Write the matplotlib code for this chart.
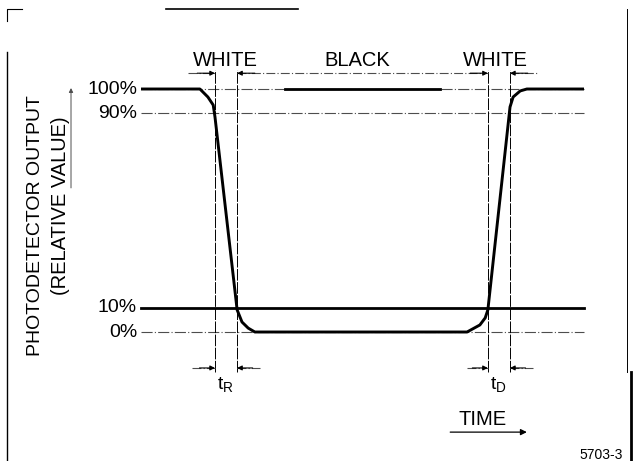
import matplotlib
matplotlib.use("Agg")
import matplotlib.pyplot as plt
from matplotlib.lines import Line2D

# ---- data (time in arbitrary units, output in % of full scale) ----
levels = [100, 90, 10, 0]
level_labels = ["100%", "90%", "10%", "0%"]

wave_t = [0, 13.3, 15.1, 16.3, 16.7, 21.7, 22.8, 24.2, 25.7,
          73.6, 76.5, 77.7, 78.3, 83.3, 84.0, 85.6, 87.1, 100]
wave_v = [100, 100, 96.7, 93.4, 88.5, 9.1, 4.1, 1.6, 0,
          0, 2.9, 5.8, 9.1, 92.6, 96.7, 99.2, 100, 100]

fall_edge = [16.7, 21.7]    # 90% -> 10%  (tR)
rise_edge = [78.3, 83.3]    # 10% -> 90%  (tD)
zones = ["WHITE", "BLACK", "WHITE"]
bold_top_span = [32.5, 67.5]

W, H = 633, 461
FONT = "Liberation Sans"

fig = plt.figure(figsize=(W / 100, H / 100), dpi=100)
ax = fig.add_axes([0, 0, 1, 1])
# px -> data: x = (px-141)/4.43 ; y = (332-py)/2.43
ax.set_xlim(-141 / 4.43, (W - 141) / 4.43)
ax.set_ylim((332 - H) / 2.43, 332 / 2.43)
ax.axis("off")

t0, t1 = 0, 100
thin = dict(color="0.3", lw=0.8)
dashdot = (0, (10, 2, 1, 2))

# reference levels
ax.plot([t0, t1], [100, 100], linestyle=dashdot, **thin)
ax.plot([t0, t1], [90, 90], linestyle=dashdot, **thin)
ax.plot([t0, t1], [0, 0], linestyle=dashdot, **thin)
ax.plot([t0, t1], [10, 10], color="k", lw=2.0)
ax.plot(bold_top_span, [100, 100], color="k", lw=2.0)

# waveform
ax.plot(wave_t, wave_v, color="k", lw=2.1, solid_capstyle="butt",
        solid_joinstyle="round")

# percent labels
for v, lab in zip(levels, level_labels):
    ax.text(-0.9, v, lab, ha="right", va="center", fontsize=14, family=FONT)

# vertical marker lines
dim_top, dim_bot = 106.5, -14.8
for x in fall_edge + rise_edge:
    ax.plot([x, x], [dim_bot - 1.5, dim_top + 1.5], color="k", lw=0.7,
            linestyle=(0, (12, 1.5)))

arrow = dict(arrowstyle="-|>", color="k", lw=0.8, mutation_scale=7,
             shrinkA=0, shrinkB=0)


def dim_arrow(x_from, x_to, y):
    ax.annotate("", xy=(x_to, y), xytext=(x_from, y), arrowprops=arrow)


# WHITE / BLACK / WHITE dimension line
ax.plot([10.6, fall_edge[0]], [dim_top] * 2, linestyle=(0, (8, 2, 1, 2)), **thin)
ax.plot([fall_edge[1], rise_edge[0]], [dim_top] * 2, linestyle=(0, (8, 2, 1, 2)), **thin)
ax.plot([rise_edge[1], 89.4], [dim_top] * 2, linestyle=(0, (8, 2, 1, 2)), **thin)
dim_arrow(fall_edge[0] - 4, fall_edge[0], dim_top)
dim_arrow(fall_edge[1] + 4, fall_edge[1], dim_top)
dim_arrow(rise_edge[0] - 4, rise_edge[0], dim_top)
dim_arrow(rise_edge[1] + 4, rise_edge[1], dim_top)

zone_x = [19.0, 48.9, 80.1]
for x, lab in zip(zone_x, zones):
    ax.text(x, 111.9, lab, ha="center", va="center", fontsize=14.5, family=FONT)

# tR / tD arrows
ax.plot([11.5, fall_edge[0]], [dim_bot] * 2, linestyle=(0, (8, 2, 1, 2)), **thin)
ax.plot([fall_edge[1], 26.9], [dim_bot] * 2, linestyle=(0, (8, 2, 1, 2)), **thin)
ax.plot([73.6, rise_edge[0]], [dim_bot] * 2, linestyle=(0, (8, 2, 1, 2)), **thin)
ax.plot([rise_edge[1], 88.5], [dim_bot] * 2, linestyle=(0, (8, 2, 1, 2)), **thin)
dim_arrow(fall_edge[0] - 3.5, fall_edge[0], dim_bot)
dim_arrow(fall_edge[1] + 3.5, fall_edge[1], dim_bot)
dim_arrow(rise_edge[0] - 3.5, rise_edge[0], dim_bot)
dim_arrow(rise_edge[1] + 3.5, rise_edge[1], dim_bot)
ax.text(19.0, -21.4, r"$\mathregular{t_R}$", ha="center", va="center",
        fontsize=14, family=FONT)
ax.text(80.6, -21.4, r"$\mathregular{t_D}$", ha="center", va="center",
        fontsize=14, family=FONT)

# time arrow
ax.text(77.0, -36.2, "TIME", ha="center", va="center", fontsize=14.5, family=FONT)
ax.annotate("", xy=(87.1, -41.2), xytext=(69.8, -41.2),
            arrowprops=dict(arrowstyle="-|>", color="k", lw=0.9,
                            mutation_scale=9, shrinkA=0, shrinkB=0))

# y axis label + arrow
ax.text(-23.8, 44.0, "PHOTODETECTOR OUTPUT", rotation=90, ha="center",
        va="center", fontsize=14, family=FONT)
ax.text(-18.1, 52.1, "(RELATIVE VALUE)", rotation=90, ha="center",
        va="center", fontsize=14.5, family=FONT)
ax.annotate("", xy=(-15.8, 100.4), xytext=(-15.8, 59.3),
            arrowprops=dict(arrowstyle="-|>", color="0.3", lw=0.7,
                            mutation_scale=6, shrinkA=0, shrinkB=0))

ax.text(108.8, -50.6, "5703-3", ha="right", va="center", fontsize=10, family=FONT)

# page frame marks (figure pixels)
def frame_line(xs, ys, **kw):
    fig.add_artist(Line2D([x / W for x in xs], [1 - y / H for y in ys],
                          transform=fig.transFigure, color="k", **kw))


frame_line([7, 7, 22], [21, 9, 9], lw=0.8)
frame_line([166, 298], [9, 9], lw=1.2)
frame_line([7, 7], [52, H], lw=1.0)
frame_line([627, 627], [9, 372], lw=0.7)
frame_line([631, 631], [372, H], lw=2.0)

fig.savefig("out.png", dpi=100)
